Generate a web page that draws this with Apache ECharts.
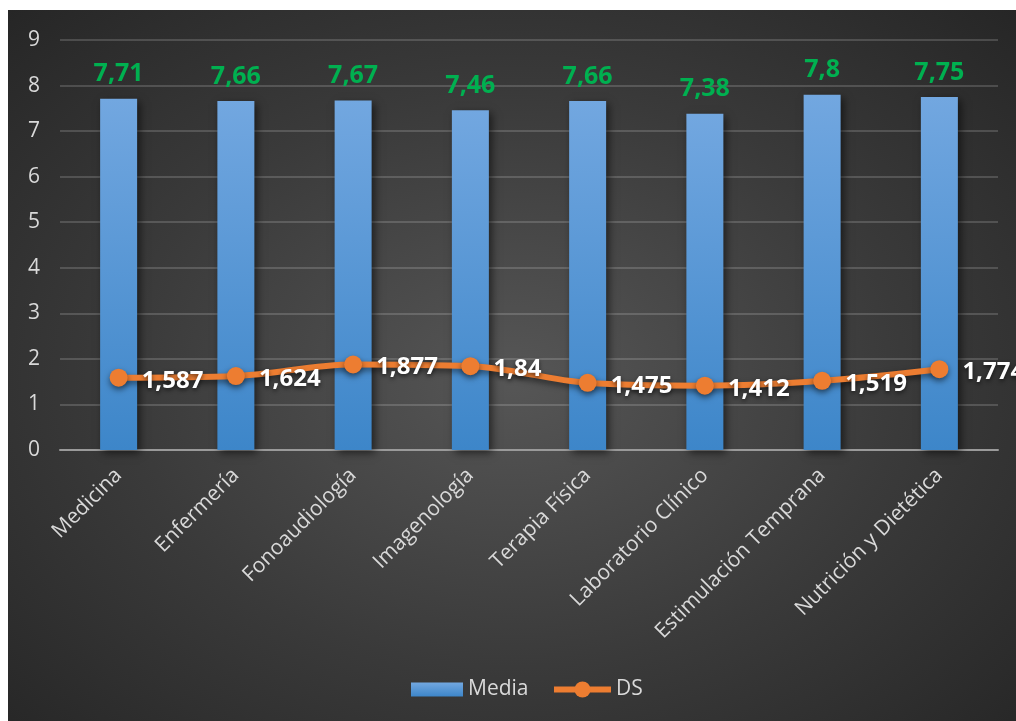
<!DOCTYPE html>
<html>
<head>
<meta charset="utf-8">
<script src="https://cdn.jsdelivr.net/npm/echarts@6/dist/echarts.min.js"></script>
<style>
html,body{margin:0;padding:0;background:#fff;}
#bg{position:absolute;left:8px;top:10px;width:1008px;height:711px;
background:radial-gradient(ellipse farthest-corner at 50% 52%, #565656 0%, #3a3a3a 55%, #262626 100%);}
#chart{position:absolute;left:0;top:0;width:1016px;height:721px;}
</style>
</head>
<body>
<div id="bg"></div>
<div id="chart"></div>
<script>
const categories = ['Medicina','Enfermería','Fonoaudiología','Imagenología','Terapia Física','Laboratorio Clínico','Estimulación Temprana','Nutrición y Dietética'];
const mediaValues = [7.71, 7.66, 7.67, 7.46, 7.66, 7.38, 7.8, 7.75];
const dsValues = [1.587, 1.624, 1.877, 1.84, 1.475, 1.412, 1.519, 1.774];
const yTicks = [0,1,2,3,4,5,6,7,8,9];

const fmt = p => String(p.value).replace('.', ',');
const legendText = {color: '#d9d9d9', fontSize: 21, fontFamily: 'Open Sans'};
const chart = echarts.init(document.getElementById('chart'), null, {renderer:'canvas'});
chart.setOption({
  backgroundColor: 'transparent',
  animation: false,
  textStyle: {fontFamily: 'Open Sans'},
  grid: {left: 60, right: 18, top: 40, bottom: 271},
  legend: [
    {
      bottom: 16, left: 406,
      itemWidth: 52, itemHeight: 14,
      textStyle: legendText,
      data: [{name:'Media', icon:'rect'}]
    },
    {
      bottom: 16, left: 546,
      itemWidth: 57, itemHeight: 20,
      textStyle: legendText,
      data: [{name:'DS', lineStyle: {width: 6, color: '#ed7d31'}}]
    }
  ],
  xAxis: {
    type: 'category', data: categories,
    axisLine: {lineStyle: {color: '#9a9a9a', width: 2}},
    axisTick: {show: false},
    axisLabel: {rotate: 45, color: '#d9d9d9', fontSize: 21, margin: 22, interval: 0}
  },
  yAxis: {
    type: 'value', min: yTicks[0], max: yTicks[yTicks.length-1], interval: 1,
    axisLine: {show: false}, axisTick: {show: false},
    axisLabel: {color: '#d9d9d9', fontSize: 21, margin: 20},
    splitLine: {lineStyle: {color: 'rgba(255,255,255,0.16)', width: 2}}
  },
  series: [
    {
      name: 'Media', type: 'bar', data: mediaValues, barWidth: 37,
      itemStyle: {
        color: new echarts.graphic.LinearGradient(0,0,0,1,[{offset:0,color:'#72a7e0'},{offset:1,color:'#3d86c9'}]),
        shadowBlur: 8, shadowColor: 'rgba(0,0,0,0.55)', shadowOffsetX: 3, shadowOffsetY: 3
      },
      label: {show: true, position: 'top', distance: 12, color: '#00b050', fontWeight: 'bold', fontSize: 25, fontFamily: 'Open Sans', formatter: fmt}
    },
    {
      name: 'DS', type: 'line', data: dsValues, smooth: 0.35,
      symbol: 'circle', symbolSize: 18,
      lineStyle: {color: '#ed7d31', width: 6, shadowBlur: 6, shadowColor: 'rgba(0,0,0,0.5)', shadowOffsetY: 3},
      itemStyle: {color: '#ed7d31', shadowBlur: 6, shadowColor: 'rgba(0,0,0,0.5)', shadowOffsetY: 3},
      label: {show: true, position: 'right', distance: 14, offset: [0,3], color: '#ffffff', fontWeight: 'bold', fontSize: 24, fontFamily: 'Open Sans',
        textShadowBlur: 4, textShadowColor: 'rgba(0,0,0,0.6)', textShadowOffsetY: 2, formatter: fmt}
    }
  ]
});
</script>
</body>
</html>
